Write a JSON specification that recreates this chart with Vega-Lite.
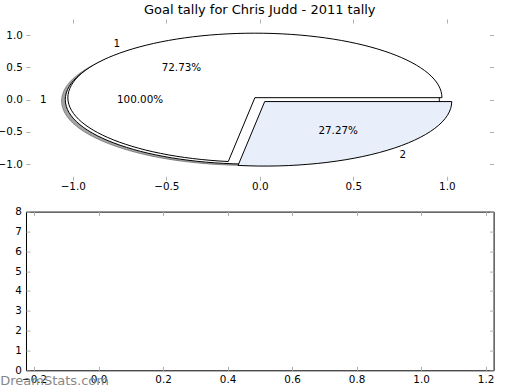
{
  "$schema": "https://vega.github.io/schema/vega-lite/v6.json",
  "background": "white",
  "padding": {"left": -3, "top": 3, "right": 0, "bottom": 0},
  "autosize": {"type": "pad"},
  "bounds": "flush",
  "spacing": 30.6,
  "config": {
    "font": "DejaVu Sans",
    "view": {"stroke": null},
    "axis": {
      "labelFont": "DejaVu Sans",
      "labelFontSize": 10.4,
      "labelColor": "black",
      "tickColor": "#b0b0b0",
      "tickSize": -4,
      "tickWidth": 1,
      "domain": false,
      "grid": false,
      "labelPadding": 8
    }
  },
  "vconcat": [
    {
      "width": 467.6,
      "height": 161.25,
      "title": {"text": "Goal tally for Chris Judd - 2011 tally", "fontSize": 13, "fontWeight": "normal", "font": "DejaVu Sans", "color": "black", "anchor": "middle", "frame": "group", "offset": 2},
      "data": {"values": [
        {"part": "full", "label": "1", "value": 11, "pct": "100.00%", "cx": -0.04, "cy": 0, "lx": -1.14, "ly": 0, "tx": -0.64, "ty": 0},
        {"part": "s1", "label": "1", "value": 8, "pct": "72.73%", "cx": -0.02619, "cy": 0.03023, "lx": -0.74654, "ly": 0.86156, "tx": -0.41911, "ty": 0.48368},
        {"part": "s2", "label": "2", "value": 3, "pct": "27.27%", "cx": 0.02619, "cy": -0.03023, "lx": 0.74654, "ly": -0.86156, "tx": 0.41911, "ty": -0.48368}
      ]},
      "resolve": {"axis": {"x": "independent", "y": "independent"}},
      "layer": [
        {
          "transform": [{"filter": "datum.part === 'full'"}],
          "mark": {"type": "point", "filled": true, "fill": "#4c4c4c", "fillOpacity": 0.5, "stroke": "#4c4c4c", "strokeOpacity": 0.5, "strokeWidth": 1, "opacity": 1, "size": 139940, "xOffset": -3.74, "yOffset": 1.29},
          "encoding": {
            "x": {"field": "cx", "type": "quantitative", "scale": {"domain": [-1.25, 1.25], "nice": false}, "axis": {"orient": "top", "labels": false, "values": [-1, -0.5, 0, 0.5, 1], "title": null}},
            "y": {"field": "cy", "type": "quantitative", "scale": {"domain": [-1.25, 1.25], "nice": false}, "axis": {"orient": "right", "labels": false, "values": [-1, -0.5, 0, 0.5, 1], "title": null}},
            "shape": {"field": "part", "type": "nominal", "scale": {"domain": ["full", "s1", "s2"], "range": ["M1,0A1,0.34485,0,1,0,-1,0A1,0.34485,0,1,0,1,0Z", "M0,0L1,0A1,0.34485,0,1,0,-0.14231,0.34134Z", "M0,0L-0.14231,0.34134A1,0.34485,0,0,0,1,0Z"]}, "legend": null}
          }
        },
        {
          "mark": {"type": "point", "filled": true, "stroke": "black", "strokeWidth": 1, "opacity": 1, "size": 139940},
          "encoding": {
            "x": {"field": "cx", "type": "quantitative", "scale": {"domain": [-1.25, 1.25], "nice": false}, "axis": {"orient": "bottom", "values": [-1, -0.5, 0, 0.5, 1], "format": ".1f", "title": null, "labelPadding": 5.7}},
            "y": {"field": "cy", "type": "quantitative", "scale": {"domain": [-1.25, 1.25], "nice": false}, "axis": {"orient": "left", "values": [-1, -0.5, 0, 0.5, 1], "format": ".1f", "title": null, "labelPadding": 7.7}},
            "shape": {"field": "part", "type": "nominal", "legend": null},
            "fill": {"field": "part", "type": "nominal", "scale": {"domain": ["full", "s1", "s2"], "range": ["#ffffff", "#ffffff", "#e8eefa"]}, "legend": null}
          }
        },
        {
          "mark": {"type": "text", "font": "DejaVu Sans", "fontSize": 10.4, "align": "center", "baseline": "middle", "color": "black"},
          "encoding": {
            "x": {"field": "tx", "type": "quantitative", "axis": null},
            "y": {"field": "ty", "type": "quantitative", "axis": null},
            "text": {"field": "pct"}
          }
        },
        {
          "transform": [{"filter": "datum.lx < 0"}],
          "mark": {"type": "text", "font": "DejaVu Sans", "fontSize": 10.4, "align": "right", "baseline": "middle", "color": "black"},
          "encoding": {
            "x": {"field": "lx", "type": "quantitative", "axis": null},
            "y": {"field": "ly", "type": "quantitative", "axis": null},
            "text": {"field": "label"}
          }
        },
        {
          "transform": [{"filter": "datum.lx > 0"}],
          "mark": {"type": "text", "font": "DejaVu Sans", "fontSize": 10.4, "align": "left", "baseline": "middle", "color": "black"},
          "encoding": {
            "x": {"field": "lx", "type": "quantitative", "axis": null},
            "y": {"field": "ly", "type": "quantitative", "axis": null},
            "text": {"field": "label"}
          }
        }
      ]
    },
    {
      "width": 467.6,
      "height": 158.7,
      "view": {"stroke": "black", "strokeWidth": 1},
      "title": {"text": "DreamStats.com", "orient": "bottom", "anchor": "start", "frame": "group", "dx": -25.7, "offset": -10, "fontSize": 13, "fontWeight": "normal", "font": "DejaVu Sans", "color": "#888888"},
      "data": {"values": []},
      "resolve": {"axis": {"x": "independent", "y": "independent"}},
      "layer": [
        {
          "mark": {"type": "point", "opacity": 0},
          "encoding": {
            "x": {"field": "x", "type": "quantitative", "scale": {"domain": [-0.225, 1.225], "nice": false}, "axis": {"orient": "bottom", "values": [-0.2, 0, 0.2, 0.4, 0.6, 0.8, 1.0, 1.2], "format": ".1f", "title": null, "labelPadding": 8.7}},
            "y": {"field": "y", "type": "quantitative", "scale": {"domain": [0, 8], "nice": false}, "axis": {"orient": "left", "values": [0, 1, 2, 3, 4, 5, 6, 7, 8], "format": "d", "title": null, "labelPadding": 8.7}}
          }
        },
        {
          "mark": {"type": "point", "opacity": 0},
          "encoding": {
            "x": {"field": "x", "type": "quantitative", "axis": {"orient": "top", "labels": false, "values": [-0.2, 0, 0.2, 0.4, 0.6, 0.8, 1.0, 1.2], "title": null}},
            "y": {"field": "y", "type": "quantitative", "axis": {"orient": "right", "labels": false, "values": [0, 1, 2, 3, 4, 5, 6, 7, 8], "title": null}}
          }
        }
      ]
    }
  ]
}
